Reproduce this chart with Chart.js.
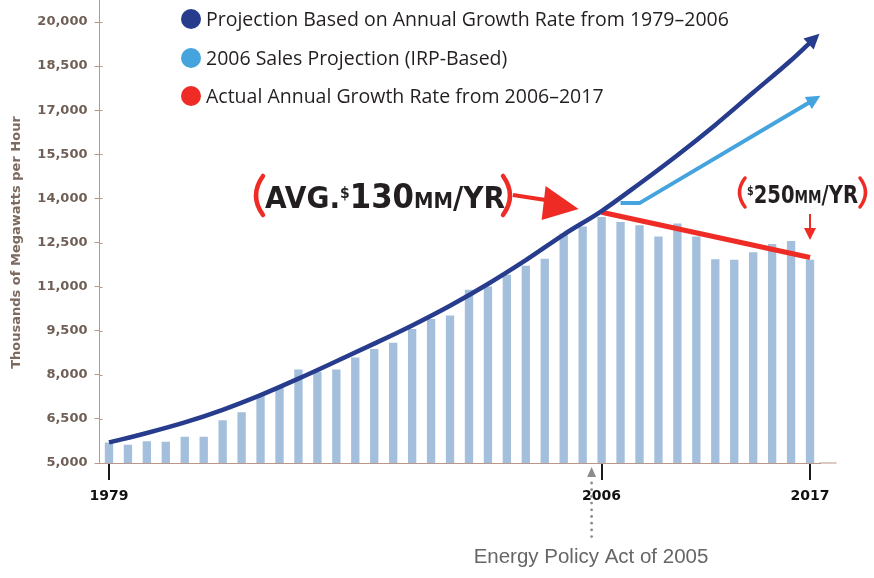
<!DOCTYPE html>
<html>
<head>
<meta charset="utf-8">
<script src="https://cdn.jsdelivr.net/npm/chart.js@4.4.1/dist/chart.umd.min.js"></script>
<style>
  html, body { margin: 0; padding: 0; background: #ffffff; }
  #wrap { width: 874px; height: 578px; position: relative; }
</style>
</head>
<body>
<div id="wrap"><canvas id="c" width="874" height="578"></canvas></div>
<script>
// ---------------- DATA ----------------
const categories = ['1980','1981','1982','1983','1984','1985','1986','1987','1988','1989',
  '1990','1991','1992','1993','1994','1995','1996','1997','1998','1999',
  '2000','2001','2002','2003','2004','2005','2006','2007','2008','2009',
  '2010','2011','2012','2013','2014','2015','2016','2017'];

const xTickLabels = ['1979','','','','','','','','','',
  '','','','','','','','','','',
  '','','','','','','2006','','','',
  '','','','','','','','2017'];

const yTickValues = [5000, 6500, 8000, 9500, 11000, 12500, 14000, 15500, 17000, 18500, 20000];

// annual sales (thousands of MWh)
const annualSales = [5700, 5620, 5740, 5720, 5890, 5890, 6450, 6730, 7300, 7590,
  8180, 8100, 8180, 8590, 8880, 9090, 9560, 9900, 10020, 10890,
  11000, 11400, 11710, 11950, 12810, 13040, 13370, 13200, 13090, 12700,
  13150, 12700, 11930, 11910, 12170, 12450, 12550, 11910];

// Projection based on annual growth rate 1979–2006
const projection7906 = [5700, null, 6020, null, 6380, null, 6810, null, 7310, null,
  7870, null, 8460, null, 9060, null, 9680, null, 10350, null,
  11090, null, 11900, null, 12770, null, 13570, null, 14500, null,
  15470, null, 16500, null, 17600, null, 18700, 19300];

// 2006 sales projection (IRP-based)
const irpProjection = [null, null, null, null, null, null, null, null, null, null,
  null, null, null, null, null, null, null, null, null, null,
  null, null, null, null, null, null, null, 13840, 13840, null,
  null, null, null, null, null, null, null, 17280];

// Actual annual growth rate 2006–2017
const actualGrowth = [null, null, null, null, null, null, null, null, null, null,
  null, null, null, null, null, null, null, null, null, null,
  null, null, null, null, null, null, 13530, null, null, null,
  null, null, null, null, null, null, null, 11990];

const seriesNames = ['Annual Sales',
  'Projection Based on Annual Growth Rate from 1979\u20132006',
  '2006 Sales Projection (IRP-Based)',
  'Actual Annual Growth Rate from 2006\u20132017'];

// ---------------- STYLE ----------------
const C_BAR = '#a3bfdc';
const C_DARK = '#283c8e';
const C_LIGHT = '#45a4dd';
const C_RED = '#ee2b24';
const C_AXIS = '#b9978b';
const C_YLAB = '#6f5f56';

function drawArrowHead(ctx, x, y, dx, dy, len, half, color) {
  const L = Math.hypot(dx, dy) || 1;
  const ux = dx / L, uy = dy / L;
  const px = -uy, py = ux;
  const bx = x - ux * 2, by = y - uy * 2;
  const tx = x + ux * len, ty = y + uy * len;
  ctx.beginPath();
  ctx.moveTo(tx, ty);
  ctx.lineTo(bx + px * half, by + py * half);
  ctx.lineTo(bx - px * half, by - py * half);
  ctx.closePath();
  ctx.fillStyle = color;
  ctx.fill();
}

function fitPieces(ctx, pieces, x, baseline, targetW, color) {
  let w = 0;
  pieces.forEach(p => { ctx.font = 'bold ' + p[1] + 'px "DejaVu Sans"'; w += ctx.measureText(p[0]).width; });
  const s = targetW / w;
  ctx.save();
  ctx.translate(x, baseline);
  ctx.scale(s, 1);
  ctx.fillStyle = color;
  ctx.textBaseline = 'alphabetic';
  ctx.textAlign = 'left';
  let cx = 0;
  pieces.forEach(p => {
    ctx.font = 'bold ' + p[1] + 'px "DejaVu Sans"';
    ctx.fillText(p[0], cx, -p[2]);
    cx += ctx.measureText(p[0]).width;
  });
  ctx.restore();
}

function paren(ctx, x0, y0, xm, y1, color, w) {
  ctx.save();
  ctx.strokeStyle = color;
  ctx.lineWidth = w;
  ctx.lineCap = 'round';
  ctx.beginPath();
  ctx.moveTo(x0, y0);
  ctx.quadraticCurveTo(xm, (y0 + y1) / 2, x0, y1);
  ctx.stroke();
  ctx.restore();
}

const bgPlugin = {
  id: 'bg',
  beforeDraw(chart) {
    const ctx = chart.ctx;
    ctx.save();
    ctx.fillStyle = '#ffffff';
    ctx.fillRect(0, 0, chart.width, chart.height);
    ctx.restore();
  }
};

const decoPlugin = {
  id: 'deco',
  afterDatasetsDraw(chart) {
    const ctx = chart.ctx;
    // arrowheads at the end of the two projection lines
    [[1, C_DARK, 13, 7.5], [2, C_LIGHT, 12, 7]].forEach(([di, col, len, half]) => {
      const meta = chart.getDatasetMeta(di);
      const pts = meta.data.filter(p => !p.skip);
      const end = pts[pts.length - 1];
      const prev = pts[pts.length - 2];
      let dx = end.x - prev.x, dy = end.y - prev.y;
      if (di === 1 && end.cp1x !== undefined && (end.x - end.cp1x) !== 0) {
        dx = end.x - end.cp1x; dy = end.y - end.cp1y;
      }
      drawArrowHead(ctx, end.x, end.y, dx, dy, len, half, col);
    });
  },
  afterDraw(chart) {
    const ctx = chart.ctx;
    const xs = chart.scales.x, ys = chart.scales.y;
    const area = chart.chartArea;

    // axis extensions
    ctx.save();
    ctx.strokeStyle = C_AXIS;
    ctx.lineWidth = 1;
    ctx.beginPath();
    ctx.moveTo(area.left, 0); ctx.lineTo(area.left, area.top);
    ctx.moveTo(area.right, area.bottom); ctx.lineTo(area.right + 17, area.bottom);
    yTickValues.forEach(v => {
      const yy = Math.round(ys.getPixelForValue(v)) + 0.5;
      ctx.moveTo(area.left, yy); ctx.lineTo(area.left + 3, yy);
    });
    ctx.stroke();
    ctx.restore();

    // legend (custom, top-left)
    const legendRows = [[1, C_DARK, 19], [2, C_LIGHT, 58], [3, C_RED, 96]];
    ctx.save();
    legendRows.forEach(([di, col, cy]) => {
      ctx.beginPath();
      ctx.arc(191, cy, 10, 0, Math.PI * 2);
      ctx.fillStyle = col;
      ctx.fill();
      ctx.font = '19.5px "Open Sans"';
      ctx.fillStyle = '#231f20';
      ctx.textBaseline = 'middle';
      ctx.textAlign = 'left';
      ctx.fillText(chart.data.datasets[di].label, 206, cy + 1);
    });
    ctx.restore();

    // "(AVG.$130MM/YR)" annotation with red arrow
    const x26 = xs.getPixelForValue(26);
    const x37 = xs.getPixelForValue(37);
    fitPieces(ctx, [['AVG.', 30, 0], ['$', 15, 10], ['130', 33, 0], ['MM', 21, 0], ['/YR', 30, 0]], 265, 208, 240, '#231f20');
    paren(ctx, 263, 176, 249, 215, C_RED, 4.5);
    paren(ctx, 503, 176, 517, 215, C_RED, 4.5);
    ctx.save();
    ctx.strokeStyle = C_RED;
    ctx.lineWidth = 4;
    ctx.beginPath();
    ctx.moveTo(513, 195); ctx.lineTo(x26 - 56, 200);
    ctx.stroke();
    ctx.beginPath();
    ctx.moveTo(x26 - 56, 186);
    ctx.lineTo(x26 - 60, 220);
    ctx.lineTo(x26 - 23, 209);
    ctx.closePath();
    ctx.fillStyle = C_RED;
    ctx.fill();
    ctx.restore();

    // "($250MM/YR)" annotation with small down arrow
    fitPieces(ctx, [['$', 12, 8], ['250', 24.5, 0], ['MM', 17, 0], ['/YR', 24.5, 0]], 747, 203, 111, '#231f20');
    paren(ctx, 745, 178, 734, 207, C_RED, 3.5);
    paren(ctx, 860, 178, 871, 207, C_RED, 3.5);
    ctx.save();
    ctx.strokeStyle = C_RED;
    ctx.lineWidth = 2;
    ctx.beginPath();
    ctx.moveTo(x37, 214); ctx.lineTo(x37, 229);
    ctx.stroke();
    ctx.beginPath();
    ctx.moveTo(x37 - 6, 228); ctx.lineTo(x37 + 6, 228); ctx.lineTo(x37, 240);
    ctx.closePath();
    ctx.fillStyle = C_RED;
    ctx.fill();
    ctx.restore();

    // Energy Policy Act marker (dotted arrow up to the axis)
    const ex = x26 - 10;
    ctx.save();
    ctx.fillStyle = '#8c8c8c';
    ctx.beginPath();
    ctx.moveTo(ex, 467); ctx.lineTo(ex + 4.5, 477); ctx.lineTo(ex - 4.5, 477);
    ctx.closePath();
    ctx.fill();
    for (let yy = 483; yy <= 537; yy += 6.7) {
      ctx.beginPath();
      ctx.arc(ex, yy, 1.4, 0, Math.PI * 2);
      ctx.fill();
    }
    ctx.font = '20.5px "Liberation Sans"';
    ctx.fillStyle = '#666666';
    ctx.textAlign = 'center';
    ctx.textBaseline = 'alphabetic';
    ctx.fillText('Energy Policy Act of 2005', 591, 563);
    ctx.restore();
  }
};

new Chart(document.getElementById('c'), {
  data: {
    labels: categories,
    datasets: [
      {
        type: 'bar', label: seriesNames[0], data: annualSales,
        backgroundColor: C_BAR, borderWidth: 0,
        barPercentage: 0.44, categoryPercentage: 1.0, order: 10
      },
      {
        type: 'line', label: seriesNames[1], data: projection7906,
        borderColor: C_DARK, borderWidth: 4.5, pointRadius: 0,
        spanGaps: true, cubicInterpolationMode: 'monotone', fill: false, order: 1
      },
      {
        type: 'line', label: seriesNames[2], data: irpProjection,
        borderColor: C_LIGHT, borderWidth: 4, pointRadius: 0,
        spanGaps: true, tension: 0, fill: false, order: 3
      },
      {
        type: 'line', label: seriesNames[3], data: actualGrowth,
        borderColor: C_RED, borderWidth: 5, pointRadius: 0,
        spanGaps: true, tension: 0, fill: false, order: 2
      }
    ]
  },
  options: {
    responsive: false,
    animation: false,
    devicePixelRatio: 1,
    layout: { padding: { left: 0, right: 54.5, top: 22, bottom: 0 } },
    plugins: { legend: { display: false }, tooltip: { enabled: false }, title: { display: false } },
    scales: {
      x: {
        type: 'category',
        offset: true,
        afterFit(scale) { scale.height = 115; },
        border: { display: true, color: C_AXIS, width: 1 },
        grid: {
          display: true, drawOnChartArea: false, offset: false,
          tickLength: 17, lineWidth: 2,
          color: (c) => (c.tick && c.tick.label) ? '#1a1a1a' : 'rgba(0,0,0,0)'
        },
        ticks: {
          autoSkip: false, maxRotation: 0, minRotation: 0, padding: 8,
          color: '#111111',
          font: { family: 'DejaVu Sans', weight: 'bold', size: 14 },
          callback: (v, i) => xTickLabels[i]
        }
      },
      y: {
        type: 'linear',
        min: 5000, max: 20000,
        afterFit(scale) { scale.width = 99.5; },
        afterBuildTicks(scale) { scale.ticks = yTickValues.map(v => ({ value: v })); },
        border: { display: true, color: C_AXIS, width: 1 },
        grid: { display: true, drawOnChartArea: false, tickLength: 5, color: C_AXIS, lineWidth: 1 },
        ticks: {
          padding: 7, color: C_YLAB,
          font: { family: 'DejaVu Sans', weight: 'bold', size: 13 },
          callback: (v) => v.toLocaleString('en-US')
        },
        title: {
          display: true, text: 'Thousands of Megawatts per Hour', color: '#7c6a5f',
          font: { family: 'DejaVu Sans', weight: 'bold', size: 13 },
          padding: { top: 9, bottom: 0 }
        }
      }
    }
  },
  plugins: [bgPlugin, decoPlugin]
});
</script>
</body>
</html>
